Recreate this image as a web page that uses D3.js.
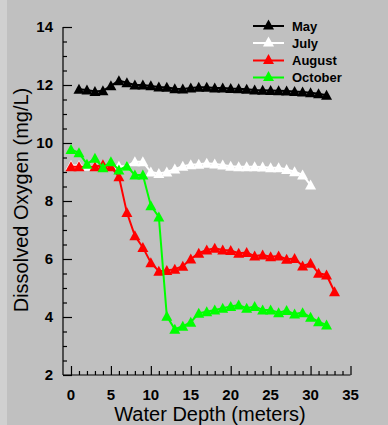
<!DOCTYPE html>
<html><head><meta charset="utf-8">
<script src="https://cdn.jsdelivr.net/npm/d3@7"></script>
<style>
html,body{margin:0;padding:0;background:#C0C0C0;}
svg{display:block;}
</style></head>
<body>
<script>
const seriesNames = ["May", "July", "August", "October"];
const seriesColors = ["#000000", "#FFFFFF", "#FF0000", "#00FF00"];

const mayDepth = [1,2,3,4,5,6,7,8,9,10,11,12,13,14,15,16,17,18,19,20,21,22,23,24,25,26,27,28,29,30,31,32];
const mayDO    = [11.85,11.83,11.78,11.8,11.97,12.15,12.08,12.0,12.0,11.97,11.93,11.92,11.87,11.86,11.9,11.92,11.92,11.9,11.9,11.88,11.87,11.85,11.83,11.82,11.81,11.8,11.79,11.78,11.76,11.73,11.7,11.65];

const julyDepth = [0,1,2,3,4,5,6,7,8,9,10,11,12,13,14,15,16,17,18,19,20,21,22,23,24,25,26,27,28,29,30];
const julyDO    = [9.22,9.22,9.2,9.2,9.2,9.2,9.2,9.2,9.35,9.35,9.0,8.95,9.0,9.1,9.2,9.25,9.27,9.3,9.28,9.24,9.2,9.18,9.18,9.18,9.17,9.15,9.15,9.09,9.01,8.9,8.55];

const augDepth = [0,1,3,4,5,6,7,8,9,10,11,12,13,14,15,16,17,18,19,20,21,22,23,24,25,26,27,28,29,30,31,32,33];
const augDO    = [9.18,9.18,9.18,9.25,9.18,8.84,7.6,6.8,6.4,5.87,5.58,5.6,5.65,5.75,6.0,6.2,6.31,6.37,6.31,6.29,6.2,6.22,6.1,6.14,6.08,6.1,5.99,6.02,5.76,5.85,5.51,5.45,4.87];

const octDepth = [0,1,2,3,4,5,6,7,8,9,10,11,12,13,14,15,16,17,18,19,20,21,22,23,24,25,26,27,28,29,30,31,32];
const octDO    = [9.78,9.66,9.27,9.47,9.15,9.35,9.07,9.2,8.9,8.9,7.84,7.45,4.03,3.58,3.68,3.82,4.13,4.18,4.24,4.3,4.36,4.41,4.3,4.36,4.24,4.24,4.15,4.22,4.1,4.15,3.99,3.84,3.72];

const xTicks = [0,5,10,15,20,25,30,35];
const yTicks = [2,4,6,8,10,12,14];

const allDepths = [mayDepth, julyDepth, augDepth, octDepth];
const allDO = [mayDO, julyDO, augDO, octDO];

const W = 388, H = 425;
const svg = d3.select("body").append("svg").attr("width", W).attr("height", H);
svg.append("rect").attr("x",0).attr("y",0).attr("width",W).attr("height",H).attr("fill","#C0C0C0");
svg.append("rect").attr("x",0).attr("y",0).attr("width",7).attr("height",H).attr("fill","#D0D0D0");

const x = d3.scaleLinear().domain([-1, 35]).range([63, 350.5]);
const y = d3.scaleLinear().domain([2, 14]).range([375, 27]);

// Axes
const axisColor = "#000";
const g = svg.append("g");
// y axis
const yAxis = d3.axisRight(y).tickValues(d3.range(2, 14.01, 0.5)).tickSize(0).tickFormat("");
const yg = g.append("g").attr("transform", `translate(${x(-1)},0)`).call(yAxis);
yg.select(".domain").remove();
g.append("line").attr("x1", x(-1)).attr("x2", x(-1)).attr("y1", y(14)).attr("y2", y(2)).attr("stroke", axisColor).attr("stroke-width", 1.2);
yg.selectAll(".tick line").attr("x2", d => (Math.abs(d % 2) < 1e-9 ? 9 : 4)).attr("stroke", axisColor).attr("stroke-width", 1.2);
// y labels
g.selectAll(".ylab").data(yTicks).enter().append("text")
  .attr("x", 53).attr("y", d => y(d)).attr("dy", "0.36em")
  .attr("text-anchor", "end").attr("font-family", "Liberation Sans, Arial, sans-serif")
  .attr("font-weight", "bold").attr("font-size", 15).text(d => d);

// x axis
const xAxis = d3.axisTop(x).tickValues(d3.range(0, 35.01, 1)).tickSize(0).tickFormat("");
const xg = g.append("g").attr("transform", `translate(0,${y(2)})`).call(xAxis);
xg.select(".domain").remove();
g.append("line").attr("x1", x(-1)).attr("x2", x(35)).attr("y1", y(2)).attr("y2", y(2)).attr("stroke", axisColor).attr("stroke-width", 1.2);
xg.selectAll(".tick line").attr("y2", d => (d % 5 === 0 ? -9 : -4)).attr("stroke", axisColor).attr("stroke-width", 1.2);
g.selectAll(".xlab").data(xTicks).enter().append("text")
  .attr("x", d => x(d)).attr("y", 400)
  .attr("text-anchor", "middle").attr("font-family", "Liberation Sans, Arial, sans-serif")
  .attr("font-weight", "bold").attr("font-size", 15).text(d => d);

// Titles
svg.append("text").attr("x", 210).attr("y", 421).attr("text-anchor", "middle")
  .attr("font-family", "Liberation Sans, Arial, sans-serif").attr("font-size", 20)
  .text("Water Depth (meters)");
svg.append("text").attr("transform", "translate(28,200) rotate(-90)").attr("text-anchor", "middle")
  .attr("font-family", "Liberation Sans, Arial, sans-serif").attr("font-size", 20)
  .text("Dissolved Oxygen (mg/L)");

// Triangle marker
const tri = "M0,-5.5L5.5,4.5L-5.5,4.5Z";

const line = d3.line().x(d => x(d[0])).y(d => y(d[1]));
seriesNames.forEach((name, i) => {
  const pts = allDepths[i].map((d, j) => [d, allDO[i][j]]);
  const sg = svg.append("g");
  sg.append("path").attr("d", line(pts)).attr("fill", "none")
    .attr("stroke", seriesColors[i]).attr("stroke-width", 2);
  sg.selectAll("path.m").data(pts).enter().append("path").attr("class", "m")
    .attr("d", tri).attr("transform", d => `translate(${x(d[0])},${y(d[1])})`)
    .attr("fill", seriesColors[i]);
});

// Legend
const legY = [26, 43, 60.5, 77.5];
seriesNames.forEach((name, i) => {
  const lg = svg.append("g");
  lg.append("line").attr("x1", 253).attr("x2", 284).attr("y1", legY[i]).attr("y2", legY[i])
    .attr("stroke", seriesColors[i]).attr("stroke-width", 2);
  lg.append("path").attr("d", tri).attr("transform", `translate(268.5,${legY[i] - 1})`).attr("fill", seriesColors[i]);
  lg.append("text").attr("x", 292).attr("y", legY[i]).attr("dy", "0.36em")
    .attr("font-family", "Liberation Sans, Arial, sans-serif").attr("font-weight", "bold")
    .attr("font-size", 13).text(name);
});
</script>
</body></html>
